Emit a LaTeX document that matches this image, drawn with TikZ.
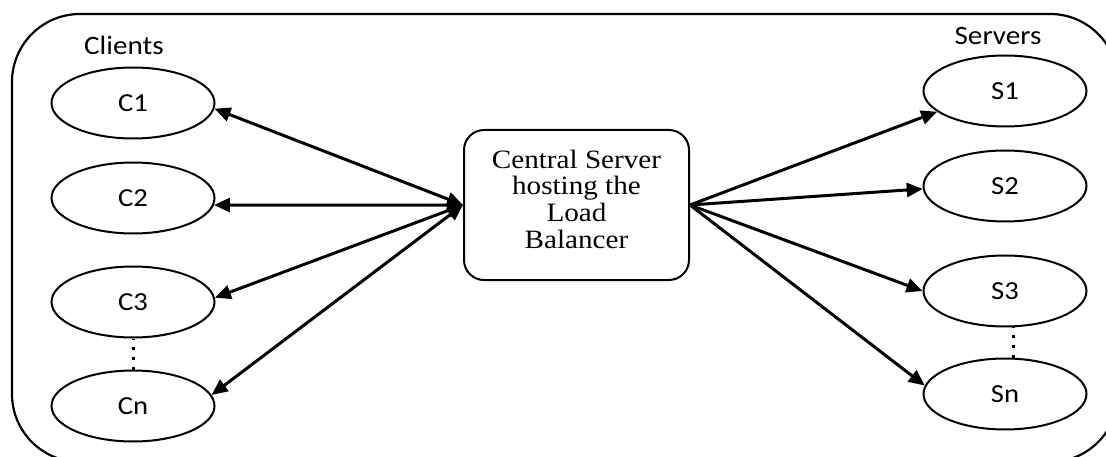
\documentclass[tikz,border=0pt]{standalone}
\usepackage{fontspec}
\setmainfont{Liberation Serif}[FakeStretch=1.1]
\newfontfamily\calib{Carlito}[FakeStretch=1.1]
\usetikzlibrary{arrows.meta,shapes.geometric}
\begin{document}
\begin{tikzpicture}[x=1pt,y=-1pt,
 ell/.style={ellipse,draw,line width=2pt,minimum width=163pt,minimum height=71pt,inner sep=0pt,font=\calib\fontsize{26}{30}\selectfont},
 lbl/.style={font=\calib\fontsize{26.5}{30}\selectfont,inner sep=0pt,anchor=base},
 conn/.style={line width=3pt,-{Triangle[length=16pt,width=14pt]}},
 biconn/.style={line width=3pt,{Triangle[length=16pt,width=14pt]}-{Triangle[length=16pt,width=14pt]}},
 dotline/.style={line width=3pt,dash pattern=on 3pt off 7pt,dash phase=2pt},
 hub/.style={draw,rounded corners=20pt,line width=2pt,minimum width=225pt,minimum height=150pt,align=center,text depth=12pt,font=\fontsize{26.5}{26.7}\selectfont}]
\useasboundingbox (0,0) rectangle (1106,457);
\clip (0,0) rectangle (1106,457);
\draw[line width=2.2pt,rounded corners=68pt] (12,14) rectangle (1118,462);

\node[lbl] (clients) at (124,55) {Clients};
\node[lbl] (servers) at (998,45) {Servers};

\node[ell] (C1) at (133,103) {C1};
\node[ell] (C2) at (133,198) {C2};
\node[ell] (C3) at (133,302) {C3};
\node[ell] (Cn) at (133,406) {Cn};

\node[ell] (S1) at (1005,91) {S1};
\node[ell] (S2) at (1005,186) {S2};
\node[ell] (S3) at (1005,291) {S3};
\node[ell] (Sn) at (1005,394) {Sn};

\node[hub] (lb) at (576.5,205) {Central Server\\hosting the\\Load\\Balancer};

\draw[biconn] (lb.west) -- (C1.-4);
\draw[biconn] (lb.west) -- (C2.-5);
\draw[biconn] (lb.west) -- (C3.3);
\draw[biconn] (lb.west) -- (Cn.8);

\draw[conn] (lb.east) -- (S1.197);
\draw[conn] (lb.east) -- (S2.182);
\draw[conn] (lb.east) -- (S3.180);
\draw[conn] (lb.east) -- (Sn.174);

\draw[dotline] (C3.south) -- (Cn.north);
\draw[dotline] (S3.-77) -- (Sn.77);
\end{tikzpicture}
\end{document}
